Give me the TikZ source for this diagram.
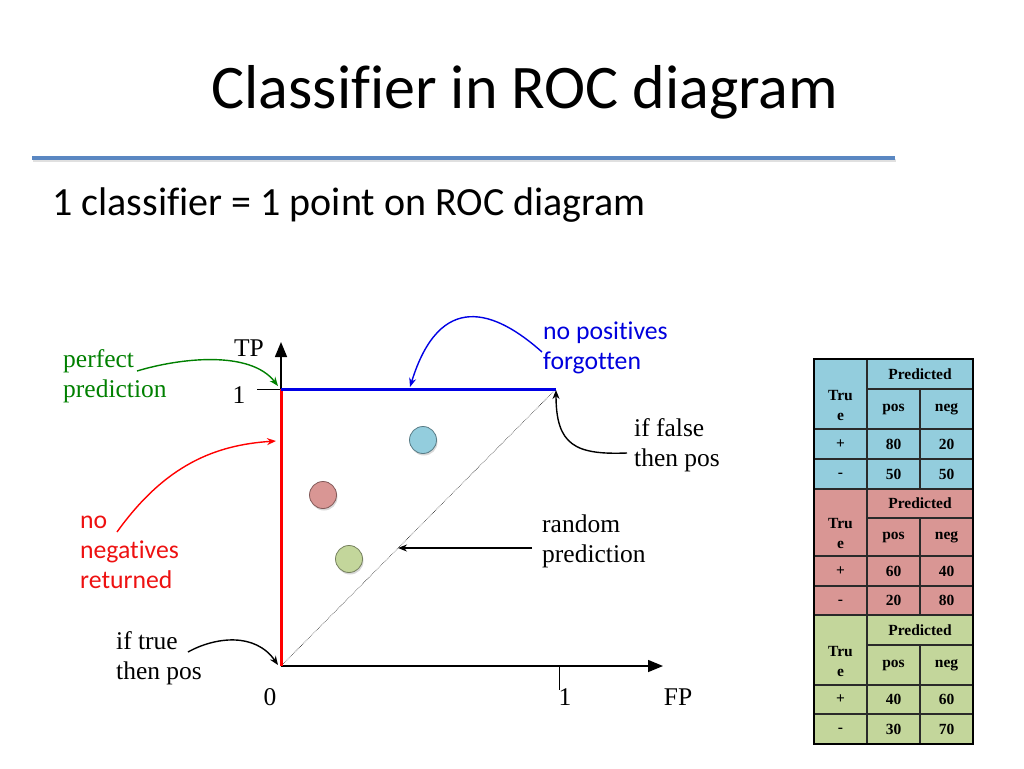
\documentclass[tikz,border=0pt]{standalone}
\usepackage{fontspec}
\setmainfont{Liberation Serif}
\newfontfamily\calibri[Ligatures=NoCommon]{Carlito}
\usetikzlibrary{arrows.meta,shadows}
\definecolor{rulecol}{HTML}{5A87C2}
\definecolor{cblue}{HTML}{93CDDD}
\definecolor{cred}{HTML}{D99694}
\definecolor{cgreen}{HTML}{C3D69B}
\definecolor{tgreen}{HTML}{008000}
\definecolor{tblue}{HTML}{0000DD}
\definecolor{tred}{HTML}{EE1111}
\definecolor{gridcol}{HTML}{2A2A2A}
\begin{document}
\begin{tikzpicture}[x=1pt,y=-1pt,
  serif/.style={font=\fontsize{25.5}{30}\selectfont, align=left, inner sep=0pt},
  sanslbl/.style={font=\calibri\fontsize{25.7}{30}\selectfont, align=left, inner sep=0pt},
  annot/.style={line width=1.4pt, -{Stealth[length=9pt,width=7pt]}},
  axis/.style={line width=1.5pt, -{Triangle[length=15pt,width=12pt]}},
  dot/.style={circle, minimum size=27pt, inner sep=0pt, line width=0.8pt,
    drop shadow={opacity=0.3, shadow xshift=1pt, shadow yshift=-2pt}},
  cell/.style={font=\bfseries\fontsize{15.5}{16}\selectfont, inner sep=0pt, align=center}
]
\useasboundingbox (0,0) rectangle (1024,768);
\fill[white] (0,0) rectangle (1024,768);

% title and rule
\node[font=\calibri\fontsize{62}{70}\selectfont, inner sep=0pt] (title) at (525,92) {Classifier in ROC diagram};
\draw[black!12, line width=2.5pt] (33,160.5) -- (896,160.5);
\draw[rulecol, line width=4pt] (32,158) -- (895,158);
\node[font=\calibri\fontsize{40}{44}\selectfont, inner sep=0pt, anchor=west] (sub) at (52,205) {1 classifier = 1 point on ROC diagram};

% plot coordinates
\coordinate (o) at (281,666);
\coordinate (p01) at (281,389);
\coordinate (p11) at (556,389);
\coordinate (ytip) at (281,342);
\coordinate (xtip) at (663,666);

\draw[gridcol, densely dotted, line width=0.6pt] (o) -- (p11);
\draw[axis] (o) -- (ytip);
\draw[axis] (o) -- (xtip);
\draw[line width=1pt] (257,389) -- (p01);
\draw[line width=1pt] (559,666) -- (559,690);
\draw[red, line width=3pt] (o) -- (p01);
\draw[blue!90!black, line width=3pt] (p01) -- (p11);

% axis labels
\node[serif] (tp) at (249,348) {TP};
\node[serif] (y1) at (239,395) {1};
\node[serif] (x0) at (270,697) {0};
\node[serif] (x1) at (565,697) {1};
\node[serif] (fp) at (678,697) {FP};

% points
\node[dot, fill=cblue, draw=cblue!60!black] (cb) at (423,440) {};
\node[dot, fill=cred, draw=cred!60!black] (cr) at (323,495) {};
\node[dot, fill=cgreen, draw=cgreen!60!black] (cg) at (349,559) {};

% labels
\node[serif, text=tgreen, anchor=west] (perf) at (63,376) {perfect\\prediction};
\node[sanslbl, text=tred, anchor=west] (noneg) at (80,552) {no\\negatives\\returned};
\node[serif, anchor=west] (iftrue) at (116,658) {if true\\then pos};
\node[sanslbl, text=tblue, anchor=west] (nopos) at (543,348) {no positives\\forgotten};
\node[serif, anchor=west] (iffalse) at (634,445) {if false\\then pos};
\node[serif, anchor=west] (rand) at (542,541) {random\\prediction};

% annotation arrows
\coordinate (gs) at (137,371);
\coordinate (rs) at (117,532);
\coordinate (re) at (276,441);
\coordinate (ts) at (188,652);
\coordinate (bs) at (542,352);
\coordinate (be) at (410,387);
\coordinate (fs) at (627,453);
\coordinate (ds) at (532,548);
\coordinate (de) at (398,548);
\draw[annot, tgreen] (gs) .. controls (180,358) and (250,350) .. (278,386);
\draw[annot, red] (rs) .. controls (165,465) and (215,445) .. (re);
\draw[annot, black] (ts) .. controls (215,637) and (255,632) .. (278,665);
\draw[annot, blue!90!black] (bs) .. controls (495,310) and (440,290) .. (be);
\draw[annot, black] (fs) .. controls (575,455) and (556,445) .. (556,390);
\draw[annot, black] (ds) -- (de);

% tables
\foreach \a/\b/\c/\d/\e/\col/\pp/\pn/\np/\nn [count=\k] in
  {359/389/429/459/489/cblue/80/20/50/50,
   489/518/556/586/615/cred/60/40/20/80,
   615/645/685/714/744/cgreen/40/60/30/70}{
  \fill[\col] (814,\a) rectangle (973,\e);
  \draw[gridcol, line width=1.2pt] (814,\a) rectangle (973,\e);
  \draw[gridcol, line width=1.2pt] (867,\a) -- (867,\e);
  \draw[gridcol, line width=1.2pt] (920,\b) -- (920,\e);
  \draw[gridcol, line width=1.2pt] (867,\b) -- (973,\b);
  \draw[gridcol, line width=1.2pt] (814,\c) -- (973,\c);
  \draw[gridcol, line width=1.2pt] (814,\d) -- (973,\d);
  \node[cell] (pred\k) at (920,{(\a+\b)/2}) {Predicted};
  \node[cell, font=\bfseries\fontsize{15.5}{20}\selectfont] (true\k) at (840.5,{(\a+\c)/2+11}) {Tru\\e};
  \node[cell] (hp\k) at (893.5,{(\b+\c)/2}) {pos};
  \node[cell] (hn\k) at (946.5,{(\b+\c)/2}) {neg};
  \node[cell] (rp\k) at (840.5,{(\c+\d)/2}) {+};
  \node[cell] (rn\k) at (840.5,{(\d+\e)/2+1.5}) {-};
  \node[cell] (pp\k) at (893.5,{(\c+\d)/2}) {\pp};
  \node[cell] (pn\k) at (946.5,{(\c+\d)/2}) {\pn};
  \node[cell] (np\k) at (893.5,{(\d+\e)/2}) {\np};
  \node[cell] (nn\k) at (946.5,{(\d+\e)/2}) {\nn};
}
\draw[black, line width=1.5pt] (814,359) rectangle (973,744);
\end{tikzpicture}
\end{document}
